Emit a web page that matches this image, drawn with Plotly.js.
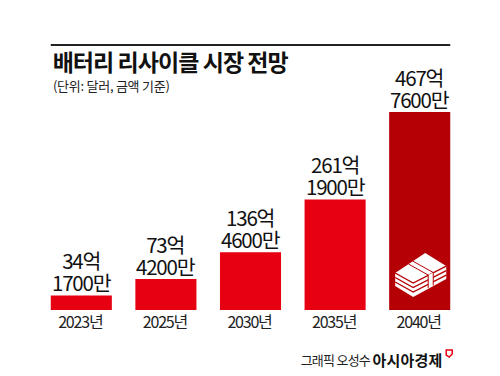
<!DOCTYPE html>
<html><head><meta charset="utf-8">
<script src="https://cdn.plot.ly/plotly-3.0.1.min.js"></script>
<style>html,body{margin:0;padding:0;background:#fff}#c{width:500px;height:376px}
.xtick text{letter-spacing:-1.2px}
.annotation text{letter-spacing:-1.2px}
.annotation[data-index="0"] text{letter-spacing:-0.95px}
.annotation[data-index="1"] text{letter-spacing:-0.25px}
.annotation[data-index="2"] text{letter-spacing:-0.75px}
.annotation[data-index="3"] text{letter-spacing:0.2px}
</style>
</head><body><div id="c"></div>
<script>
const categories = ['2023년','2025년','2030년','2035년','2040년'];
const values = [34.17, 73.42, 136.46, 261.19, 467.76];
const valueLabels = ['34억<br>1700만','73억<br>4200만','136억<br>4600만','261억<br>1900만','467억<br>7600만'];
const barColors = ['#e60012','#e60012','#e60012','#e60012','#b50005'];
const FONT = '"Noto Sans CJK KR","Noto Sans",sans-serif';
const W=500,H=376,L=39.25,R=38.25,T=50,B=66;
const px=x=>(x-L)/(W-L-R), py=y=>1-(y-T)/(H-T-B);
function pathOf(pts,close){return 'M'+pts.map(p=>px(p[0]).toFixed(4)+','+py(p[1]).toFixed(4)).join('L')+(close?'Z':'');}
const fillS=(pts,c)=>({type:'path',xref:'paper',yref:'paper',fillcolor:c,line:{width:0},path:pathOf(pts,true)});
const lineS=(pts,c,w)=>({type:'path',xref:'paper',yref:'paper',line:{color:c,width:w},path:pathOf(pts,false)});
const DK='#b50005';
const iconShapes=[
  fillS([[395,273],[425,253],[446,266],[446,279],[413,297],[395,286]],'#fff'),
  lineS([[395,273],[413,283],[446,266]],DK,1.4),
  lineS([[395,277.5],[413,287.5],[446,270.5]],DK,1.4),
  lineS([[395,282],[413,292],[446,275]],DK,1.4),
  fillS([[428,275],[433,272.5],[433,285.5],[428,288]],'#fff'),
  lineS([[408.4,264.1],[428,275],[428,288]],DK,1),
  lineS([[412.7,261.2],[433,272.5],[433,285.5]],DK,1)
];
const logoShape={type:'path',xref:'paper',yref:'paper',fillcolor:'rgba(0,0,0,0)',line:{color:'#e60012',width:1.5},path:pathOf([[446,350],[452,350],[452,354],[449,357],[446,355]],true)};
const traces=[{type:'bar',x:categories,y:values,hoverinfo:'skip',marker:{color:barColors,line:{width:0}},width:0.722}];
const fixedAnn=[
 {xref:'paper',yref:'paper',x:px(44),y:py(61.5),xanchor:'left',yanchor:'middle',showarrow:false,text:'<b>배터리 리사이클 시장 전망</b>',font:{family:FONT,size:23,color:'#111'}},
 {xref:'paper',yref:'paper',x:px(49),y:py(85),xanchor:'left',yanchor:'middle',showarrow:false,text:'(단위: 달러, 금액 기준)',font:{family:FONT,size:13,color:'#222'}},
 {xref:'paper',yref:'paper',x:px(296),y:py(359),xanchor:'left',yanchor:'middle',showarrow:false,text:'그래픽 오성수',font:{family:FONT,size:13,color:'#222'}},
 {xref:'paper',yref:'paper',x:px(371),y:py(359),xanchor:'left',yanchor:'middle',showarrow:false,text:'<b>아시아경제</b>',font:{family:FONT,size:15,color:'#111'}}
];
const valueAnn=categories.map((c,i)=>({xref:'x',yref:'y',x:c,y:values[i],xanchor:'center',yanchor:'middle',showarrow:false,text:valueLabels[i],yshift:21.7,font:{family:FONT,size:20.5,color:'#111'}}));
const layout={width:W,height:H,margin:{l:L,r:R,t:T,b:B,pad:0},paper_bgcolor:'#fff',plot_bgcolor:'#fff',showlegend:false,
  font:{family:FONT},
  xaxis:{type:'category',showgrid:false,zeroline:false,showline:false,ticks:'',ticklabelstandoff:1,ticklabelshift:-1,tickfont:{family:FONT,size:16,color:'#222'}},
  yaxis:{range:[0,614.6],visible:false,fixedrange:true},
  shapes:[{type:'line',xref:'paper',yref:'paper',x0:px(51),x1:px(450),y0:py(45),y1:py(45),line:{color:'#222',width:2}}].concat(iconShapes,[logoShape]),
  annotations:fixedAnn.concat(valueAnn)};
Plotly.newPlot('c',traces,layout,{displayModeBar:false,staticPlot:true}).then(gd=>{
  gd.querySelectorAll('.annotation').forEach(a=>{
    if(+a.getAttribute('data-index')<fixedAnn.length) return;
    const ls=a.querySelectorAll('tspan.line');
    if(ls.length>1) ls[1].setAttribute('dy','22px');
  });
});
</script></body></html>
